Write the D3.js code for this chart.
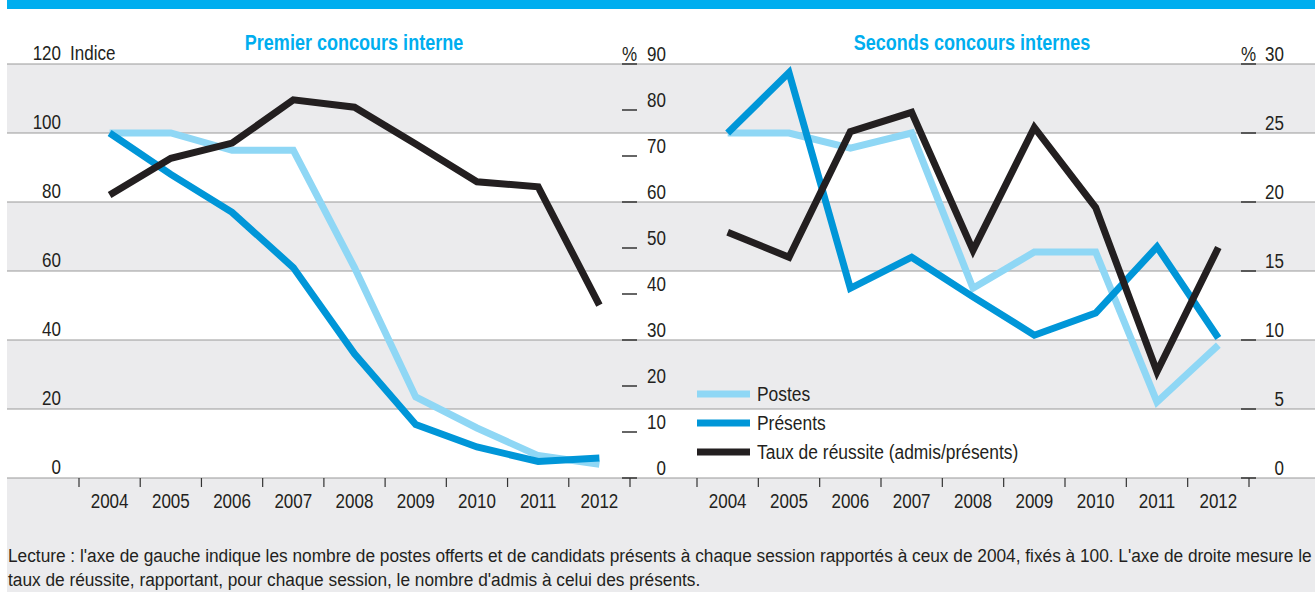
<!DOCTYPE html>
<html>
<head>
<meta charset="utf-8">
<script src="https://cdn.jsdelivr.net/npm/d3@7"></script>
<style>
  body { margin: 0; background: #fff; }
  svg text { font-family: "Liberation Sans", Arial, sans-serif; fill: #231f20; }
</style>
</head>
<body>
<div id="chart"></div>
<script>
var years = ["2004", "2005", "2006", "2007", "2008", "2009", "2010", "2011", "2012"];

// premier concours interne
var postes1 = [100, 100, 95, 95, 61, 23.5, 14.5, 6.5, 4];
var presents1 = [100, 88, 77, 61, 36, 15.5, 9, 4.8, 5.8];
var taux1 = [61.5, 69.5, 72.8, 82.2, 80.6, 72.6, 64.4, 63.3, 37.6];

// seconds concours internes
var postes2 = [100, 100, 95.6, 100, 55, 65.5, 65.5, 22, 38.5];
var presents2 = [100, 117.5, 55, 64, 52.5, 41.4, 47.8, 67, 40.6];
var taux2 = [17.8, 16, 25.1, 26.5, 16.5, 25.4, 19.6, 7.7, 16.7];

var indiceTicks = [0, 20, 40, 60, 80, 100, 120];
var taux1Ticks = [0, 10, 20, 30, 40, 50, 60, 70, 80, 90];
var taux2Ticks = [0, 5, 10, 15, 20, 25, 30];

var titles = ["Premier concours interne", "Seconds concours internes"];
var legendLabels = ["Postes", "Présents", "Taux de réussite (admis/présents)"];
var colors = ["#8fd7f5", "#0096d8", "#231f20"];
var note = [
  "Lecture : l'axe de gauche indique les nombre de postes offerts et de candidats présents à chaque session rapportés à ceux de 2004, fixés à 100. L'axe de droite mesure le",
  "taux de réussite, rapportant, pour chaque session, le nombre d'admis à celui des présents."
];

var W = 1315, H = 592,
  plotLeft = 7,
  plotTop = 64,
  plotBottom = 478;

var svg = d3.select("#chart").append("svg")
  .attr("width", W)
  .attr("height", H);

// condensed text helper: squeeze horizontally to mimic a narrow face
var narrow = function(sel, fx, fy, size, sx) {
  sx = sx || 0.81;
  return sel
    .attr("transform", function(d, i) {
      return "translate(" + fx(d, i) + "," + fy(d, i) + ") scale(" + sx + ",1)";
    })
    .style("font-size", size + "px");
};

var yIndice = d3.scaleLinear().domain([0, 120]).range([plotBottom, plotTop]);
var yTaux1 = d3.scaleLinear().domain([0, 90]).range([plotBottom, plotTop]);
var yTaux2 = d3.scaleLinear().domain([0, 30]).range([plotBottom, plotTop]);

// background: top band, grey stripes, grey footer
svg.append("rect").attr("x", plotLeft).attr("y", 0).attr("width", W - plotLeft).attr("height", 9).attr("fill", "#00aeef");
svg.append("rect").attr("x", plotLeft).attr("y", plotBottom).attr("width", W - plotLeft).attr("height", H - plotBottom).attr("fill", "#ebebed");
svg.selectAll("rect.band")
  .data([120, 80, 40])
  .enter().append("rect")
  .attr("class", "band")
  .attr("x", plotLeft)
  .attr("y", function(d) { return yIndice(d); })
  .attr("width", W - plotLeft)
  .attr("height", function(d) { return yIndice(d - 20) - yIndice(d); })
  .attr("fill", "#ebebed");

svg.selectAll("line.grid")
  .data(indiceTicks)
  .enter().append("line")
  .attr("class", "grid")
  .attr("x1", plotLeft).attr("x2", W)
  .attr("y1", function(d) { return yIndice(d); })
  .attr("y2", function(d) { return yIndice(d); })
  .attr("stroke", "#9a9a9a")
  .attr("stroke-width", 1.2);

// left axis (indice)
narrow(svg.selectAll("text.indice")
  .data(indiceTicks)
  .enter().append("text")
  .attr("class", "indice")
  .attr("text-anchor", "end")
  .text(function(d) { return d; }),
  function() { return 61; }, function(d) { return yIndice(d) - 4; }, 21);
narrow(svg.append("text").text("Indice"),
  function() { return 70; }, function() { return yIndice(120) - 4; }, 21);

var panels = [
  { x0: 79, x1: 630, postes: postes1, presents: presents1, taux: taux1, yT: yTaux1, ticks: taux1Ticks, title: titles[0], tx: 354, dash: 622, lab: 666 },
  { x0: 697, x1: 1249, postes: postes2, presents: presents2, taux: taux2, yT: yTaux2, ticks: taux2Ticks, title: titles[1], tx: 972, dash: 1241, lab: 1284 }
];

panels.forEach(function(p) {
  var x = d3.scaleBand().domain(years).range([p.x0, p.x1]);
  var cx = function(d, i) { return x(years[i]) + x.bandwidth() / 2; };

  narrow(svg.append("text")
    .attr("text-anchor", "middle")
    .style("font-weight", "bold")
    .style("fill", "#00aeef")
    .text(p.title),
    function() { return p.tx; }, function() { return 50; }, 22, 0.82);

  // x ticks at band edges
  var edges = years.map(function(d) { return x(d); }).concat([p.x1]);
  svg.selectAll(null)
    .data(edges)
    .enter().append("line")
    .attr("x1", function(d) { return d; }).attr("x2", function(d) { return d; })
    .attr("y1", plotBottom).attr("y2", plotBottom + 9)
    .attr("stroke", "#333").attr("stroke-width", 1.2);

  narrow(svg.selectAll(null)
    .data(years)
    .enter().append("text")
    .attr("text-anchor", "middle")
    .text(function(d) { return d; }),
    function(d) { return x(d) + x.bandwidth() / 2; }, function() { return 508; }, 21);

  // right axis (taux)
  svg.selectAll(null)
    .data(p.ticks)
    .enter().append("line")
    .attr("x1", p.dash).attr("x2", p.dash + 15)
    .attr("y1", function(d) { return p.yT(d); })
    .attr("y2", function(d) { return p.yT(d); })
    .attr("stroke", "#333").attr("stroke-width", 1.5);
  narrow(svg.selectAll(null)
    .data(p.ticks)
    .enter().append("text")
    .attr("text-anchor", "end")
    .text(function(d) { return d; }),
    function() { return p.lab; }, function(d) { return p.yT(d) - 3; }, 21);
  narrow(svg.append("text")
    .attr("text-anchor", "middle")
    .text("%"),
    function() { return p.dash + 7.5; }, function() { return p.yT(p.ticks[p.ticks.length - 1]) - 3; }, 21);

  var lineI = d3.line().x(cx).y(function(d) { return yIndice(d); });
  var lineT = d3.line().x(cx).y(function(d) { return p.yT(d); });

  [[p.postes, lineI, colors[0]], [p.presents, lineI, colors[1]], [p.taux, lineT, colors[2]]].forEach(function(s) {
    svg.append("path")
      .datum(s[0])
      .attr("d", s[1])
      .attr("fill", "none")
      .attr("stroke", s[2])
      .attr("stroke-width", 7)
      .attr("stroke-linejoin", "miter");
  });
});

// legend
var legend = svg.selectAll("g.legend")
  .data(legendLabels)
  .enter().append("g")
  .attr("class", "legend")
  .attr("transform", function(d, i) { return "translate(697," + (394 + i * 29) + ")"; });
legend.append("line")
  .attr("x1", 0).attr("x2", 53)
  .attr("stroke", function(d, i) { return colors[i]; })
  .attr("stroke-width", 7);
narrow(legend.append("text")
  .text(function(d) { return d; }),
  function() { return 60; }, function() { return 7; }, 21, 0.83);

// note
narrow(svg.selectAll("text.note")
  .data(note)
  .enter().append("text")
  .attr("class", "note")
  .text(function(d) { return d; }),
  function() { return 8; }, function(d, i) { return 562 + i * 24; }, 18, 0.96);
</script>
</body>
</html>
